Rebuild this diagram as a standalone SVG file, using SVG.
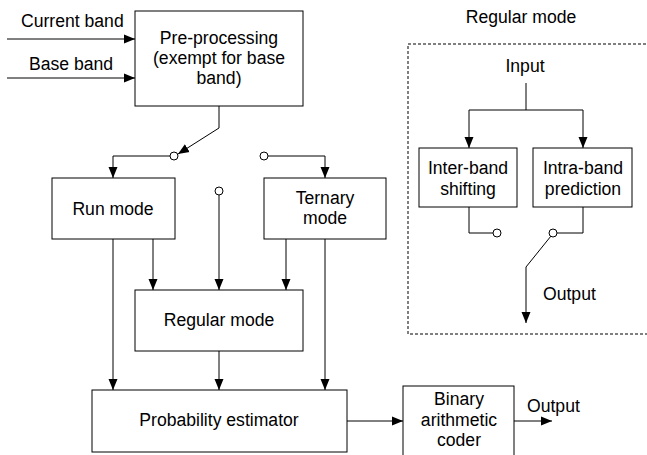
<svg xmlns="http://www.w3.org/2000/svg" width="647" height="455" viewBox="0 0 647 455">
<style>
text{font-family:"Liberation Sans",Arial,sans-serif;font-size:17.6px;fill:#000;}
.c{text-anchor:middle;}
.box{fill:#fff;stroke:#000;stroke-width:1;}
.ln{fill:none;stroke:#000;stroke-width:1;}
.ar{fill:none;stroke:#000;stroke-width:1;marker-end:url(#ah);}
.sw{fill:#fff;stroke:#000;stroke-width:1;}
.dash{fill:none;stroke:#000;stroke-width:1;stroke-dasharray:3,2;}
</style>
<defs>
<marker id="ah" markerUnits="userSpaceOnUse" markerWidth="11" markerHeight="10" refX="11" refY="5" orient="auto">
<path d="M0,0.5 L11,5 L0,9.5 z" fill="#000"/>
</marker>
</defs>
<rect width="647" height="455" fill="#fff"/>

<g id="connectors">
<line class="ar" x1="7" y1="39" x2="135" y2="39"/>
<line class="ar" x1="7" y1="78" x2="135" y2="78"/>
<polyline class="ar" points="219,106 219,128 178,154"/>
<polyline class="ar" points="170,156 113,156 113,178"/>
<polyline class="ar" points="268,156 325,156 325,178"/>
<line class="ar" x1="219" y1="195" x2="219" y2="290"/>
<line class="ar" x1="113" y1="239" x2="113" y2="390"/>
<line class="ar" x1="153" y1="239" x2="153" y2="290"/>
<line class="ar" x1="286" y1="239" x2="286" y2="290"/>
<line class="ar" x1="325" y1="239" x2="325" y2="390"/>
<line class="ar" x1="219" y1="351" x2="219" y2="390"/>
<line class="ar" x1="347" y1="421" x2="403" y2="421"/>
<line class="ar" x1="514" y1="421" x2="552" y2="421"/>
<line class="ln" x1="526" y1="83" x2="526" y2="110"/>
<polyline class="ar" points="469,110 583,110 583,148"/>
<polyline class="ar" points="469,110 469,148"/>
<polyline class="ln" points="469,207 469,233 493,233"/>
<polyline class="ln" points="583,207 583,233 557,233"/>
<polyline class="ar" points="551,236 526,267 526,323"/>
<circle class="sw" cx="174" cy="156" r="4"/>
<circle class="sw" cx="264" cy="156" r="4"/>
<circle class="sw" cx="219" cy="191" r="4"/>
<circle class="sw" cx="497" cy="233" r="4"/>
<circle class="sw" cx="553" cy="233" r="4"/>
</g>

<g id="inputs">
<text x="21" y="27">Current band</text>
<text x="29" y="70">Base band</text>
</g>

<g id="preprocessing">
<rect class="box" x="135" y="11" width="168" height="95"/>
<text class="c" x="219" y="44">Pre-processing</text>
<text class="c" x="219" y="64">(exempt for base</text>
<text class="c" x="219" y="84">band)</text>
</g>

<g id="runmode">
<rect class="box" x="52" y="178" width="123" height="61"/>
<text class="c" x="113" y="215">Run mode</text>
</g>

<g id="ternarymode">
<rect class="box" x="264" y="178" width="122" height="61"/>
<text class="c" x="325" y="204">Ternary</text>
<text class="c" x="325" y="224">mode</text>
</g>

<g id="regularmode">
<rect class="box" x="135" y="290" width="168" height="61"/>
<text class="c" x="219" y="326">Regular mode</text>
</g>

<g id="probability">
<rect class="box" x="92" y="390" width="255" height="62"/>
<text class="c" x="219" y="426">Probability estimator</text>
</g>

<g id="binary">
<rect class="box" x="403" y="386" width="111" height="80"/>
<text class="c" x="459" y="405">Binary</text>
<text class="c" x="459" y="426">arithmetic</text>
<text class="c" x="459" y="446">coder</text>
</g>
<text x="527" y="412">Output</text>

<g id="regular-detail">
<text class="c" x="521" y="23">Regular mode</text>
<rect class="dash" x="408" y="44" width="250" height="290"/>
<text class="c" x="525" y="72">Input</text>
</g>

<g id="interband">
<rect class="box" x="419" y="148" width="98" height="59"/>
<text class="c" x="468" y="174">Inter-band</text>
<text class="c" x="468" y="195">shifting</text>
</g>

<g id="intraband">
<rect class="box" x="533" y="148" width="99" height="59"/>
<text class="c" x="583" y="174">Intra-band</text>
<text class="c" x="583" y="195">prediction</text>
</g>
<text x="543" y="300">Output</text>
</svg>
